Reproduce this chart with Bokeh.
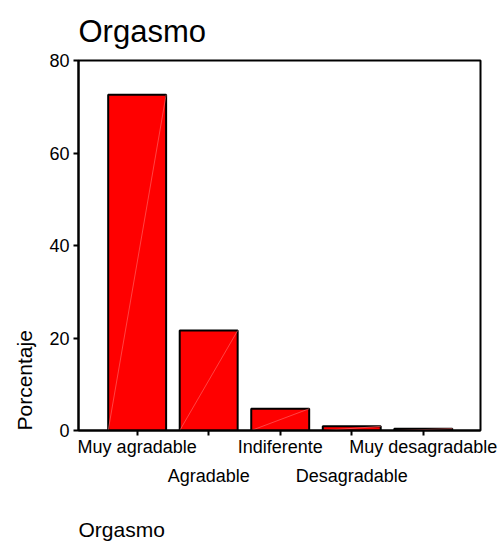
from bokeh.plotting import figure
from bokeh.models import Range1d, FixedTicker, Title, ColumnDataSource
from bokeh.embed import file_html
from bokeh.resources import INLINE

categories = ["Muy agradable", "Agradable", "Indiferente", "Desagradable", "Muy desagradable"]
porcentaje = [72.6, 21.6, 4.7, 0.9, 0.4]
y_ticks = [0, 20, 40, 60, 80]

xs = list(range(len(categories)))
bar_w = 0.81
src = ColumnDataSource(dict(
    x=xs, top=porcentaje,
    x0=[x - bar_w / 2 for x in xs], x1=[x + bar_w / 2 for x in xs],
    y0=[0] * len(xs),
))

p = figure(output_backend="svg", toolbar_location=None,
           x_range=Range1d(-0.82, 4.8), y_range=Range1d(0, 80),
           min_border_left=78, min_border_right=19, min_border_top=60, min_border_bottom=10,
           frame_width=402, frame_height=370)

p.vbar(x="x", top="top", width=bar_w, source=src, fill_color="#ff0000",
       line_color="black", line_width=2)
p.segment(x0="x0", y0="y0", x1="x1", y1="top", source=src, line_color="#ff7070",
          line_width=0.6)

p.title.text = "Orgasmo"
p.title.text_font = "Liberation Sans"
p.title.text_font_size = "31px"
p.title.text_font_style = "normal"
p.title.text_color = "black"
p.title.align = "left"
p.title.standoff = 23

p.grid.visible = False
p.outline_line_color = "black"
p.outline_line_width = 2
p.background_fill_color = "white"

for ax in (p.xaxis[0], p.yaxis[0]):
    ax.axis_line_width = 2
    ax.axis_line_color = "black"
    ax.major_tick_line_width = 2
    ax.major_tick_in = 0
    ax.major_tick_out = 5
    ax.minor_tick_line_color = None
    ax.major_label_text_font = "Liberation Sans"
    ax.major_label_text_font_size = "18px"
    ax.major_label_text_color = "black"

p.yaxis.ticker = FixedTicker(ticks=y_ticks)
p.yaxis.major_label_standoff = 4

p.xaxis.ticker = FixedTicker(ticks=xs)
p.xaxis.major_label_overrides = {
    i: (c if i % 2 == 0 else "\n" + c) for i, c in enumerate(categories)
}
p.xaxis.major_label_text_line_height = 1.45
p.xaxis.major_label_standoff = 1

p.add_layout(Title(text="Orgasmo", align="left", text_font="Liberation Sans",
                   text_font_size="21px", text_font_style="normal", text_color="black",
                   standoff=55),
             "below")
p.add_layout(Title(text="Porcentaje", align="left", text_font="Liberation Sans",
                   text_font_size="21px", text_font_style="normal", text_color="black",
                   standoff=21),
             "left")

open("out.html", "w").write(file_html(p, INLINE))
